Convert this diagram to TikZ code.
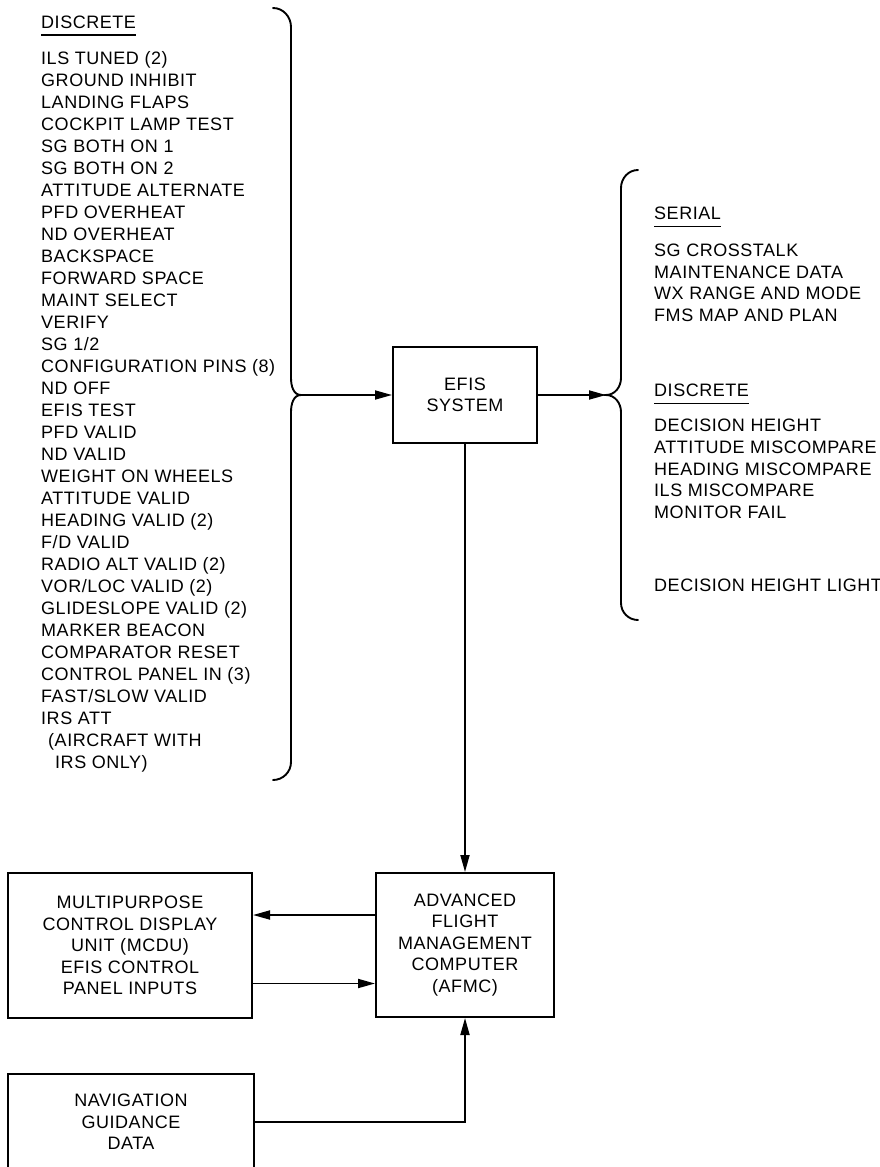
\documentclass[tikz,border=0pt]{standalone}
\usepackage{fontspec}
\setmainfont{Liberation Sans}[LetterSpace=3]
\usetikzlibrary{arrows.meta,calc}

\begin{document}
\begin{tikzpicture}[x=1pt, y=-1pt,
		font=\fontsize{18}{21.5}\selectfont,
		item/.style={anchor=base west, inner sep=0pt},
		unit/.style={draw, line width=2pt, align=center, inner sep=0pt},
		sig/.style={line width=1.8pt, -{Triangle[length=17pt,width=9pt]}},
		brace/.style={line width=1.9pt, line cap=round}]
	\useasboundingbox (0,0) rectangle (880,1167);

	% discrete inputs
	\node[item] (inhead) at (41,28) {DISCRETE};
	\draw[line width=1.3pt] ([yshift=-7pt]inhead.base west) -- ([yshift=-7pt]inhead.base east);
	\foreach \txt [count=\i] in {ILS TUNED (2), GROUND INHIBIT, LANDING FLAPS,
		COCKPIT LAMP TEST, SG BOTH ON 1, SG BOTH ON 2, ATTITUDE ALTERNATE,
		PFD OVERHEAT, ND OVERHEAT, BACKSPACE, FORWARD SPACE, MAINT SELECT,
		VERIFY, SG 1/2, CONFIGURATION PINS (8), ND OFF, EFIS TEST, PFD VALID,
		ND VALID, WEIGHT ON WHEELS, ATTITUDE VALID, HEADING VALID (2),
		F/D VALID, RADIO ALT VALID (2), VOR/LOC VALID (2), GLIDESLOPE VALID (2),
		MARKER BEACON, COMPARATOR RESET, CONTROL PANEL IN (3), FAST/SLOW VALID,
		IRS ATT}
		\node[item] (in\i) at (41,42.5+22*\i) {\txt};
	\node[item] (in32) at (48,746.5) {(AIRCRAFT WITH};
	\node[item] (in33) at (55,768.5) {IRS ONLY)};

	% input brace
	\coordinate (ltip) at (301,395);
	\draw[brace] (273,8) to[out=0,in=90] (291,27) -- (291,378)
		to[out=-90,in=180] (ltip) to[out=180,in=90] (291,412) -- (291,762)
		to[out=-90,in=0] (273,780);

	% outputs
	\node[item] (serhead) at (654,219.5) {SERIAL};
	\draw[line width=1.3pt] ([yshift=-7pt]serhead.base west) -- ([yshift=-7pt]serhead.base east);
	\foreach \txt [count=\i] in {SG CROSSTALK, MAINTENANCE DATA, WX RANGE AND MODE,
		FMS MAP AND PLAN}
		\node[item] (ser\i) at (654,235+21.5*\i) {\txt};
	\node[item] (outhead) at (654,396.5) {DISCRETE};
	\draw[line width=1.3pt] ([yshift=-7pt]outhead.base west) -- ([yshift=-7pt]outhead.base east);
	\foreach \txt [count=\i] in {DECISION HEIGHT, ATTITUDE MISCOMPARE,
		HEADING MISCOMPARE, ILS MISCOMPARE, MONITOR FAIL}
		\node[item] (out\i) at (654,409.75+21.75*\i) {\txt};
	\node[item] (out6) at (654,591.5) {DECISION HEIGHT LIGHT};

	% output brace
	\coordinate (rtip) at (606,395);
	\draw[brace] (638,170) to[out=180,in=90] (621,188) -- (621,378)
		to[out=-90,in=0] (rtip) to[out=0,in=90] (621,412) -- (621,603)
		to[out=-90,in=180] (638,620);

	% units
	\node[unit, minimum width=144pt, minimum height=96pt] (efis) at (465,395) {EFIS\\SYSTEM};
	\node[unit, minimum width=178pt, minimum height=144pt] (afmc) at (465,945)
		{ADVANCED\\FLIGHT\\MANAGEMENT\\COMPUTER\\(AFMC)};
	\node[unit, minimum width=244pt, minimum height=145pt] (mcdu) at (130,945.5)
		{MULTIPURPOSE\\CONTROL DISPLAY\\UNIT (MCDU)\\EFIS CONTROL\\PANEL INPUTS};
	\node[unit, minimum width=246pt, minimum height=96pt] (nav) at (131,1122)
		{NAVIGATION\\GUIDANCE\\DATA};

	% signal flow
	\draw[sig] (ltip) -- (efis.west);
	\draw[sig] (efis.east) -- (rtip);
	\draw[sig] (efis.south) -- (afmc.north);
	\draw[sig] ([yshift=30pt]afmc.west) -- ([yshift=30pt]afmc.west -| mcdu.east);
	\draw[sig] ([yshift=-38pt]mcdu.east) -- ([yshift=-38pt]mcdu.east -| afmc.west);
	\draw[sig] (nav.east) -| (afmc.south);
\end{tikzpicture}
\end{document}
